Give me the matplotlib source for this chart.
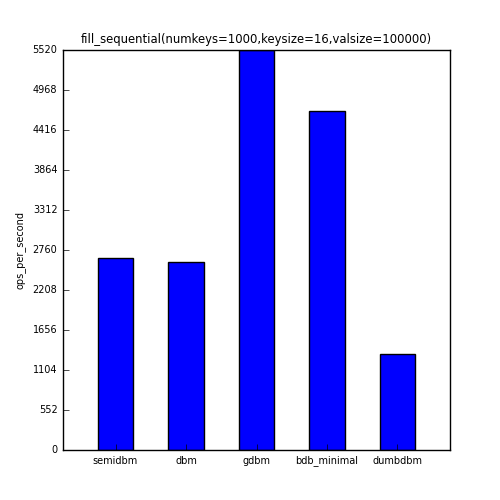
import matplotlib
matplotlib.use('Agg')
import matplotlib.pyplot as plt
import numpy as np

names = ['semidbm', 'dbm', 'gdbm', 'bdb_minimal', 'dumbdbm']
ops = [2645, 2590, 5520, 4680, 1325]
title = 'fill_sequential(numkeys=1000,keysize=16,valsize=100000)'

plt.style.use('classic')
plt.rcParams['font.size'] = 7

fig = plt.figure(figsize=(5, 5), dpi=100)
fig.patch.set_facecolor('white')
ax = fig.add_subplot(111)
fig.subplots_adjust(left=0.126, right=0.9, bottom=0.1, top=0.9)

x = np.arange(len(names))
ax.bar(x, ops, width=0.5, color='blue', edgecolor='black', align='center')
ax.set_xticks(x)
ax.set_xticklabels(names, fontsize=7)
ax.set_xlim(-0.745, len(names) - 1 + 0.745)
top = max(ops)
ax.set_ylim(0, top)
ax.set_yticks(np.linspace(0, top, 11))
ax.set_yticklabels(['%d' % v for v in np.linspace(0, top, 11)], fontsize=7)
ax.set_ylabel('ops_per_second', fontsize=7)
ax.set_title(title, fontsize=8.4)
ax.tick_params(top=False, right=False)

fig.savefig('out.png', dpi=100, facecolor='white')
